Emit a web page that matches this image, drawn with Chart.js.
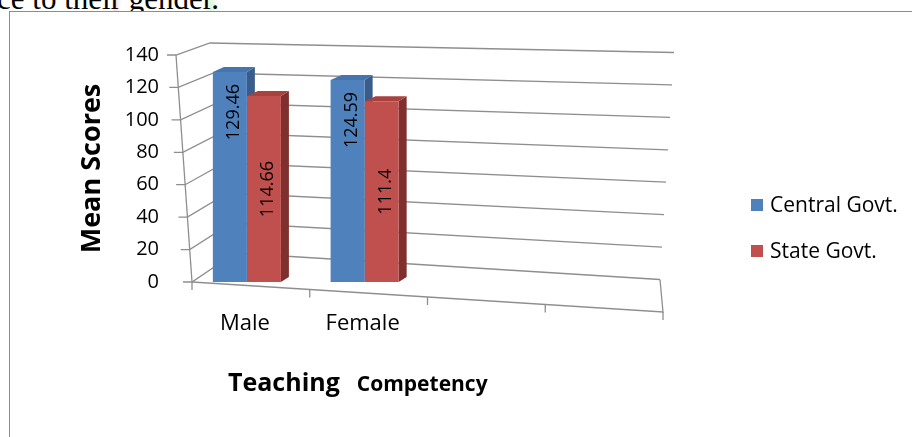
<!DOCTYPE html>
<html>
<head>
<meta charset="utf-8">
<script src="https://cdn.jsdelivr.net/npm/chart.js@4.4.1/dist/chart.umd.min.js"></script>
<style>
html,body{margin:0;padding:0;background:#fff;overflow:hidden}
#wrap{position:relative;width:912px;height:437px;overflow:hidden;background:#fff}
#top{position:absolute;left:-3px;top:-17px;font-family:"Liberation Serif","DejaVu Serif",serif;font-size:31px;line-height:31px;white-space:nowrap;color:#000}
.hp{background:radial-gradient(ellipse at 50% 75%,rgba(255,185,185,.6),rgba(255,255,255,0) 70%)}
.hg{background:radial-gradient(ellipse at 50% 75%,rgba(200,240,190,.6),rgba(255,255,255,0) 70%)}
#frame{position:absolute;left:9px;top:11px;width:940px;height:460px;border:1px solid #8c8c8c;background:#fff}
#c{position:absolute;left:0;top:0}
</style>
</head>
<body>
<div id="wrap">
<div id="top">ce to thei<span class="hp">r</span> gende<span class="hg">r.</span></div>
<div id="frame"></div>
<canvas id="c" width="912" height="437"></canvas>
</div>
<script>
// ---- data ----
const categories = ['Male', 'Female', '', ''];
const centralGovt = [129.46, 124.59, null, null];
const stateGovt = [114.66, 111.4, null, null];
const seriesNames = ['Central Govt.', 'State Govt.'];
const yMin = 0, yMax = 140, yStep = 20;
const yTitle = 'Mean Scores';
const xTitleMain = 'Teaching';
const xTitleSub = 'Competency';

// ---- styles ----
const FONT = '"Open Sans", "Noto Sans", sans-serif';
const GRID = '#8e8e8e';
const COLORS = [
  {front:'#4F81BD', side:'#385D8A', top:'#4674AE'},
  {front:'#C0504D', side:'#7F302E', top:'#A9423F'}
];
const DX = 8, DY = -5;

const wall3d = {
  id: 'wall3d',
  beforeDatasetsDraw(chart) {
    const {ctx, chartArea: {left: L, right: R}, scales: {x, y}} = chart;
    const y0 = y.getPixelForValue(yMin), yT = y.getPixelForValue(yMax);
    ctx.save();
    ctx.strokeStyle = GRID;
    ctx.lineWidth = 1.3;
    ctx.lineJoin = 'miter';
    // grid lines on left wall and back wall
    y.ticks.forEach(tk => {
      const yy = y.getPixelForValue(tk.value);
      const t = (y0 - yy) / (y0 - yT);
      const fx = L + 4 - 16 * t;
      const bx = L + 47 - 25 * t, by = yy - (29 - 17 * t);
      const ex = R + 1 + 14 * t, ey = yy - 2.5;
      ctx.beginPath();
      ctx.moveTo(fx - 9, yy);
      ctx.lineTo(fx, yy);
      ctx.lineTo(bx, by);
      ctx.lineTo(ex, ey);
      ctx.stroke();
    });
    // front vertical axis edge
    ctx.beginPath();
    ctx.moveTo(L + 4, y0);
    ctx.lineTo(L + 4 - 16, yT);
    ctx.stroke();
    // floor front edge and right edge
    const fy = (px) => y0 + 30 * (px - L) / (R - L);
    ctx.beginPath();
    ctx.moveTo(L + 4, y0);
    ctx.lineTo(R + 4, fy(R));
    ctx.lineTo(R + 1, y0 - 2.5);
    ctx.stroke();
    // category ticks on floor front edge
    const n = categories.length;
    const slot = x.getPixelForValue(1) - x.getPixelForValue(0);
    for (let i = 0; i <= n; i++) {
      const xb = x.getPixelForValue(0) - slot / 2 + i * slot;
      const yb = fy(xb);
      ctx.beginPath();
      ctx.moveTo(xb + 4, yb);
      ctx.lineTo(xb + 4, yb + 8);
      ctx.stroke();
    }
    // 3D side and top faces of bars
    for (let i = 0; i < n; i++) {
      chart.data.datasets.forEach((ds, di) => {
        const el = chart.getDatasetMeta(di).data[i];
        if (!el || ds.data[i] == null) return;
        const {x: cx, y: ty, base, width: w} = el.getProps(['x', 'y', 'base', 'width'], true);
        if (!isFinite(ty)) return;
        const xl = cx - w / 2, xr = cx + w / 2;
        const c = COLORS[di];
        ctx.fillStyle = c.side;
        ctx.beginPath();
        ctx.moveTo(xr, ty); ctx.lineTo(xr + DX, ty + DY);
        ctx.lineTo(xr + DX, base + DY); ctx.lineTo(xr, base);
        ctx.closePath(); ctx.fill();
        ctx.fillStyle = c.top;
        ctx.beginPath();
        ctx.moveTo(xl, ty); ctx.lineTo(xr, ty);
        ctx.lineTo(xr + DX, ty + DY); ctx.lineTo(xl + DX + 3, ty + DY);
        ctx.closePath(); ctx.fill();
      });
    }
    ctx.restore();
  }
};

const valueLabels = {
  id: 'valueLabels',
  afterDatasetsDraw(chart) {
    const {ctx} = chart;
    ctx.save();
    ctx.fillStyle = '#000';
    ctx.font = '18px ' + FONT;
    ctx.textAlign = 'center';
    ctx.textBaseline = 'middle';
    chart.data.datasets.forEach((ds, di) => {
      chart.getDatasetMeta(di).data.forEach((el, i) => {
        const v = ds.data[i];
        if (v == null) return;
        const {x: cx, y: ty, base} = el.getProps(['x', 'y', 'base'], true);
        const cy = ds.labelAnchor === 'end' ? ty + 40 : (ty + base) / 2;
        ctx.save();
        ctx.translate(cx + 4, cy);
        ctx.rotate(-Math.PI / 2);
        ctx.fillText(String(v), 0, 0);
        ctx.restore();
      });
    });
    ctx.restore();
  }
};

const extras = {
  id: 'extras',
  afterDraw(chart) {
    const {ctx} = chart;
    ctx.save();
    // legend
    ctx.textBaseline = 'middle';
    ctx.textAlign = 'left';
    ctx.font = '21px ' + FONT;
    chart.data.datasets.forEach((ds, di) => {
      const cy = 205 + di * 46;
      ctx.fillStyle = COLORS[di].front;
      ctx.fillRect(751, cy - 6, 12, 12);
      ctx.fillStyle = '#000';
      ctx.fillText(ds.label, 770, cy + 1);
    });
    // x axis title
    ctx.textBaseline = 'alphabetic';
    ctx.font = 'bold 25px ' + FONT;
    ctx.fillText(xTitleMain, 228, 391);
    const w = ctx.measureText(xTitleMain).width;
    ctx.font = 'bold 21px ' + FONT;
    ctx.fillText(xTitleSub, 228 + w + 17, 391);
    ctx.restore();
  }
};

new Chart(document.getElementById('c'), {
  type: 'bar',
  data: {
    labels: categories,
    datasets: [
      {label: seriesNames[0], data: centralGovt, backgroundColor: COLORS[0].front, labelAnchor: 'end'},
      {label: seriesNames[1], data: stateGovt, backgroundColor: COLORS[1].front, labelAnchor: 'center'}
    ]
  },
  options: {
    responsive: false,
    animation: false,
    devicePixelRatio: 1,
    categoryPercentage: 0.578,
    barPercentage: 1.0,
    layout: {padding: {left: 72, right: 253, top: 55, bottom: 0}},
    plugins: {legend: {display: false}, tooltip: {enabled: false}, title: {display: false}},
    scales: {
      x: {
        grid: {display: false, drawTicks: false},
        border: {display: false},
        ticks: {color: '#000', font: {family: FONT, size: 22}, padding: 29, maxRotation: 0, labelOffset: -2},
        afterFit(s) { s.height = 155; }
      },
      y: {
        min: yMin, max: yMax,
        grid: {display: false, drawTicks: false},
        border: {display: false},
        ticks: {stepSize: yStep, color: '#000', font: {family: FONT, size: 20}, padding: 29},
        title: {display: true, text: yTitle, color: '#000', font: {family: FONT, size: 27, weight: 'bold'}, padding: {top: 4, bottom: 4}},
        afterFit(s) { s.width = 116; }
      }
    }
  },
  plugins: [wall3d, valueLabels, extras]
});
</script>
</body>
</html>
